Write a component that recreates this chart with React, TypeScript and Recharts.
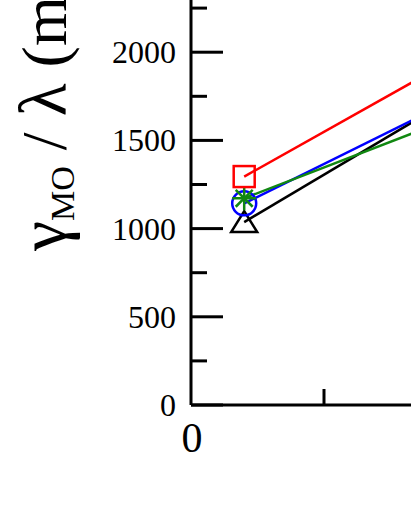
import React from 'react';
import { LineChart, Line, XAxis, YAxis } from 'recharts';

// x positions of the samples (second one sits beyond the visible crop)
const xValues = [0.2, 1.0];
const squareRed = [1295, 1972];
const circleBlue = [1143, 1739];
const starGreen = [1172, 1637];
const triangleBlack = [1037, 1754];

const yTicks = [0, 250, 500, 750, 1000, 1250, 1500, 1750, 2000, 2250];
const xTicks = [0, 0.5];

const data = xValues.map((x, i) => ({
  x,
  black: triangleBlack[i],
  blue: circleBlue[i],
  green: starGreen[i],
  red: squareRed[i],
}));

const FONT = '"Liberation Serif", "Times New Roman", serif';
const RED = '#ff0000';
const BLUE = '#0000ff';
const GREEN = '#118811';

const SquareDot = (props: any) => {
  const { cx, cy, index } = props;
  return <rect key={`sq-${index}`} x={cx - 10.5} y={cy - 10.5} width={21} height={21} fill="none" stroke={RED} strokeWidth={2.5} />;
};

const CircleDot = (props: any) => {
  const { cx, cy, index } = props;
  return <circle key={`ci-${index}`} cx={cx} cy={cy} r={12} fill="none" stroke={BLUE} strokeWidth={2.5} />;
};

const StarDot = (props: any) => {
  const { cx, cy, index } = props;
  const r = 12;
  const d = r * 0.707;
  return (
    <g key={`st-${index}`} stroke={GREEN} strokeWidth={2.5}>
      <line x1={cx - r} y1={cy} x2={cx + r} y2={cy} />
      <line x1={cx} y1={cy - r} x2={cx} y2={cy + r} />
      <line x1={cx - d} y1={cy - d} x2={cx + d} y2={cy + d} />
      <line x1={cx - d} y1={cy + d} x2={cx + d} y2={cy - d} />
    </g>
  );
};

const TriangleDot = (props: any) => {
  const { cx, cy, index } = props;
  return (
    <polygon
      key={`tr-${index}`}
      points={`${cx},${cy - 11} ${cx - 13},${cy + 10} ${cx + 13},${cy + 10}`}
      fill="none"
      stroke="#000"
      strokeWidth={2.5}
    />
  );
};

const YTick = (props: any) => {
  const { x, y, payload } = props;
  const major = payload.value % 500 === 0;
  return (
    <g>
      <line x1={x} x2={x + (major ? 32 : 16)} y1={y} y2={y} stroke="#000" strokeWidth={3} />
      {major && (
        <text x={x - 15} y={y + 11} textAnchor="end" fontSize={32} fontFamily={FONT} fill="#000">
          {payload.value}
        </text>
      )}
    </g>
  );
};

const XTick = (props: any) => {
  const { x, y, payload } = props;
  const major = payload.value % 1 === 0;
  return (
    <g>
      {!major && <line x1={x} x2={x} y1={y} y2={y - 16} stroke="#000" strokeWidth={3} />}
      {major && (
        <text x={x + 1} y={y + 47} textAnchor="middle" fontSize={42} fontFamily={FONT} fill="#000">
          {payload.value}
        </text>
      )}
    </g>
  );
};

const YTitle = () => {
  const x = 66;
  const y = 310;
  return (
    <text x={x} y={y} transform={`rotate(-90 ${x} ${y})`} fontFamily={FONT} fill="#000" textAnchor="start">
      <tspan fontSize={68}>γ</tspan>
      <tspan fontSize={34} dy={8}>MO</tspan>
      <tspan fontSize={64} dy={-8}> / </tspan>
      <tspan fontSize={68}>λ</tspan>
      <tspan fontSize={64}> (mJ/m²)</tspan>
    </text>
  );
};

export default function App() {
  return (
    <div style={{ position: 'fixed', left: 0, top: 0, width: 411, height: 532, overflow: 'hidden', background: '#fff' }}>
      <div style={{ position: 'absolute', left: 0, top: -59 }}>
        <LineChart width={800} height={524} data={data} margin={{ top: 23, right: 77, bottom: 0, left: 0 }}>
          <XAxis
            dataKey="x"
            type="number"
            domain={[0, 2]}
            ticks={xTicks}
            interval={0}
            height={60}
            tickSize={0}
            tickMargin={0}
            tickLine={false}
            tick={<XTick />}
            axisLine={{ stroke: '#000', strokeWidth: 3 }}
          />
          <YAxis
            type="number"
            domain={[0, 2500]}
            ticks={yTicks}
            interval={0}
            width={191}
            tickSize={0}
            tickMargin={0}
            tickLine={false}
            tick={<YTick />}
            axisLine={{ stroke: '#000', strokeWidth: 3 }}
            label={{ content: () => <YTitle /> }}
          />
          <Line type="linear" dataKey="black" stroke="#000" strokeWidth={2.5} dot={TriangleDot} activeDot={false} isAnimationActive={false} />
          <Line type="linear" dataKey="blue" stroke={BLUE} strokeWidth={2.5} dot={CircleDot} activeDot={false} isAnimationActive={false} />
          <Line type="linear" dataKey="green" stroke={GREEN} strokeWidth={2.5} dot={StarDot} activeDot={false} isAnimationActive={false} />
          <Line type="linear" dataKey="red" stroke={RED} strokeWidth={2.5} dot={SquareDot} activeDot={false} isAnimationActive={false} />
        </LineChart>
      </div>
    </div>
  );
}
